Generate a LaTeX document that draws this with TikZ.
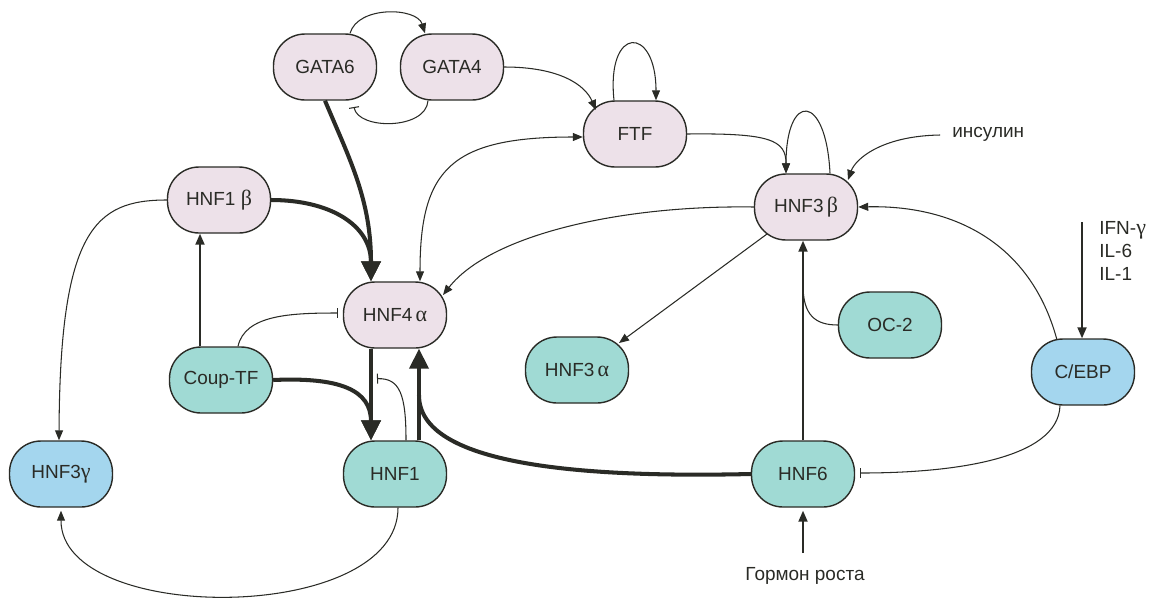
\documentclass[tikz,border=0pt]{standalone}
\usepackage{fontspec}
\setmainfont{Liberation Sans}
\newfontfamily\grf{Liberation Serif}
\newcommand{\gr}{\grf\fontsize{12.5}{12}\selectfont}
\usetikzlibrary{arrows.meta,calc}
\definecolor{pinkf}{RGB}{237,225,233}
\definecolor{tealf}{RGB}{160,218,212}
\definecolor{bluef}{RGB}{164,214,238}
\definecolor{ln}{RGB}{42,43,38}
\begin{document}
\begin{tikzpicture}[x=0.02cm,y=-0.02cm,
  box/.style={draw=ln,line width=0.8pt,rounded corners=0.63cm,minimum width=2.06cm,minimum height=1.32cm,inner sep=0pt,font=\fontsize{10.8}{12}\selectfont,text=ln},
  pk/.style={box,fill=pinkf},
  tl/.style={box,fill=tealf},
  bl/.style={box,fill=bluef},
  lbl/.style={font=\fontsize{10.8}{13.2}\selectfont,text=ln,inner sep=0pt},
  lnthin/.style={draw=ln,line width=0.6pt},
  lnmed/.style={draw=ln,line width=1.1pt},
  lnthick/.style={draw=ln,line width=2.3pt},
  ar/.style={-{Triangle[length=0.2cm,width=0.16cm]}},
  armed/.style={-{Triangle[length=0.22cm,width=0.18cm]}},
  arbig/.style={-{Triangle[length=0.4cm,width=0.38cm]}},
  arboth/.style={{Triangle[length=0.2cm,width=0.16cm]}-{Triangle[length=0.2cm,width=0.16cm]}},
  inh/.style={-{Bar[width=0.2cm,line width=0.6pt]}}
]
\useasboundingbox (0,0) rectangle (1151,599);

% nodes
\node[pk] (G6) at (325,67) {GATA6};
\node[pk] (G4) at (452,67) {GATA4};
\node[pk] (FTF) at (635,134) {FTF};
\node[pk] (H1b) at (219,200) {HNF1 {\gr β}};
\node[pk] (H4) at (395,315) {HNF4\,{\gr α}};
\node[pk] (H3b) at (806,207) {HNF3\,{\gr β}};
\node[tl] (Coup) at (221,380) {Coup-TF};
\node[tl] (H3a) at (577,370) {HNF3\,{\gr α}};
\node[tl] (OC2) at (890,325) {OC-2};
\node[bl] (CEBP) at (1083,372) {C/EBP};
\node[bl] (H3g) at (61,474) {HNF3{\gr γ}};
\node[tl] (H1) at (395,474) {HNF1};
\node[tl] (H6) at (803,474) {HNF6};

\node[lbl,anchor=west] (ins) at (952,134) {инсулин};
\node[lbl,anchor=north west,align=left] (cyt) at (1099,221) {IFN-{\gr γ}\\IL-6\\IL-1};
\node[lbl] (gorm) at (805,576) {Гормон роста};
\coordinate (cytin) at (1082,222);
\coordinate (gormin) at (803,553);

% GATA6 <-> GATA4
\draw[lnthin,ar] ($(G6.north)+(25,0)$) .. controls +(8,-28) and +(-8,-26) .. ($(G4.north)+(-27,0)$);
\draw[lnthin,inh] ($(G4.south)+(-24,0)$) .. controls (426,130) and (358,130) .. ($(G6.center)+(29,40)$);
% GATA4 -> FTF
\draw[lnthin,ar] (G4.east) .. controls (560,67) and (585,85) .. ($(FTF.center)+(-39,-24)$);
% FTF self loop
\draw[lnthin,ar] ($(FTF.north)+(-21,0)$) .. controls (606,25) and (656,25) .. ($(FTF.north)+(21,0)$);
% HNF4a <-> FTF
\draw[lnthin,arboth] ($(H4.north)+(25,0)$) .. controls (420,170) and (450,137) .. ($(FTF.west)+(0,3)$);
% GATA6 -> HNF4a, HNF1b -> HNF4a (thick)
\draw[lnthick,arbig] (G6.south) .. controls (350,160) and (371,200) .. ($(H4.north)+(-24,0)$);
\draw[lnthick,arbig] (H1b.east) .. controls (330,200) and (371,225) .. ($(H4.north)+(-24,0)$);
% FTF -> HNF3b and self loop
\draw[lnthin,ar] (FTF.east) .. controls (770,133) and (786,140) .. ($(H3b.north)+(-20,0)$);
\draw[lnthin,ar] ($(H3b.north)+(24,0)$) .. controls (826,92) and (786,92) .. ($(H3b.north)+(-20,0)$);
% insulin -> HNF3b
\draw[lnthin,ar] ($(ins.west)+(-12,1)$) .. controls (880,136) and (855,160) .. ($(H3b.center)+(42,-27)$);
% C/EBP -> HNF3b
\draw[lnthin,ar] ($(CEBP.center)+(-26,-32)$) .. controls (1030,240) and (950,205) .. (H3b.east);
% cytokines -> C/EBP
\draw[lnmed,armed] (cytin) -- ($(CEBP.north)+(-1,0)$);
% HNF3b -> HNF4a
\draw[lnthin,ar] (H3b.west) .. controls (620,205) and (490,235) .. ($(H4.center)+(48,-20)$);
% HNF3b -> HNF3a
\draw[lnthin,ar] ($(H3b.center)+(-39,27)$) -- ($(H3a.center)+(42,-27)$);
% OC-2 -> HNF3b, HNF6 -> HNF3b
\draw[lnthin] (OC2.west) .. controls (815,325) and (803,315) .. (803,285);
\draw[lnmed,armed] (H6.north) -- ($(H3b.south)+(-3,0)$);
% HNF1b -> HNF3g
\draw[lnthin,ar] (H1b.west) .. controls (95,200) and (60,230) .. ($(H3g.north)+(-2,0)$);
% Coup-TF -> HNF1b
\draw[lnmed,armed] ($(Coup.north)+(-21,0)$) -- ($(H1b.south)+(-19,0)$);
% Coup-TF -| HNF4a
\draw[lnthin,inh] ($(Coup.north)+(17,0)$) .. controls (245,315) and (290,313) .. ($(H4.west)+(-5,-2)$);
% Coup-TF -> HNF1, HNF4a -> HNF1 (thick)
\draw[lnthick,arbig] (Coup.east) .. controls (340,377) and (371,390) .. ($(H1.north)+(-24,0)$);
\draw[lnthick,arbig] ($(H4.south)+(-24,0)$) -- ($(H1.north)+(-24,0)$);
% HNF1 -| HNF4a (thin)
\draw[lnthin,inh] ($(H1.north)+(11,0)$) .. controls (406,395) and (400,378) .. ($(H4.south)+(-18,30)$);
% HNF1 -> HNF4a, HNF6 -> HNF4a (thick)
\draw[lnthick,arbig] ($(H1.north)+(24,0)$) -- ($(H4.south)+(24,0)$);
\draw[lnthick] (H6.west) .. controls (580,478) and (419,465) .. ($(H1.north)+(24,-45)$);
% HNF1 -> HNF3g
\draw[lnthin,ar] ($(H1.south)+(3,0)$) .. controls (398,625) and (61,625) .. ($(H3g.south)+(0,3)$);
% C/EBP -| HNF6
\draw[lnthin,inh] ($(CEBP.south)+(-23,0)$) .. controls (1058,460) and (950,473) .. ($(H6.east)+(5,-1)$);
% growth hormone -> HNF6
\draw[lnmed,armed] (gormin) -- ($(H6.south)+(0,3)$);
\end{tikzpicture}
\end{document}
